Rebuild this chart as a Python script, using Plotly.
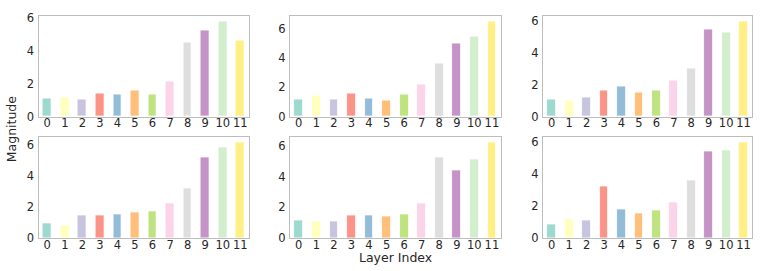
import plotly.graph_objects as go

layers = list(range(12))
tick_labels = [str(i) for i in layers]
colors = ["#8dd3c7", "#ffffb3", "#bebada", "#fb8072", "#80b1d3", "#fdb462",
          "#b3de69", "#fccde5", "#d9d9d9", "#bc80bd", "#ccebc5", "#ffed6f"]

panel1 = [1.12, 1.18, 1.02, 1.41, 1.37, 1.57, 1.35, 2.14, 4.52, 5.24, 5.80, 4.62]
panel2 = [1.17, 1.41, 1.20, 1.59, 1.22, 1.13, 1.50, 2.17, 3.65, 4.98, 5.50, 6.52]
panel3 = [1.08, 1.04, 1.20, 1.62, 1.92, 1.52, 1.62, 2.24, 3.00, 5.48, 5.30, 6.00]
panel4 = [0.95, 0.79, 1.43, 1.47, 1.55, 1.68, 1.72, 2.26, 3.21, 5.24, 5.88, 6.21]
panel5 = [1.15, 1.10, 1.08, 1.44, 1.46, 1.42, 1.52, 2.23, 5.25, 4.42, 5.10, 6.25]
panel6 = [0.88, 1.18, 1.12, 3.22, 1.76, 1.52, 1.72, 2.22, 3.60, 5.44, 5.46, 6.00]
panels = [panel1, panel2, panel3, panel4, panel5, panel6]

W, H = 761, 271
xdoms_px = [(38.5, 249.0), (290.0, 500.7), (543.0, 752.3)]
ydoms_px = [(12.0, 116.7), (138.5, 243.7)]

fig = go.Figure()
layout = dict(width=W, height=H, margin=dict(l=0, r=0, t=0, b=0),
              paper_bgcolor="white", plot_bgcolor="white", showlegend=False,
              font=dict(family="DejaVu Sans", color="#262626", size=11),
              bargap=0)
for i, vals in enumerate(panels):
    r, c = divmod(i, 3)
    n = i + 1
    xa = "x" if n == 1 else f"x{n}"
    ya = "y" if n == 1 else f"y{n}"
    fig.add_trace(go.Bar(x=layers, y=vals, width=0.5, xaxis=xa, yaxis=ya,
                         marker=dict(color=colors, opacity=0.85,
                                     line=dict(color="white", width=0.8))))
    x0, x1 = xdoms_px[c]
    y0, y1 = ydoms_px[r]
    axcommon = dict(showline=True, mirror=True, linecolor="#bdbdbd", linewidth=1.3,
                    showgrid=False, zeroline=False, ticks="",
                    tickfont=dict(size=11.5, color="#262626"),
                    ticklabeloverflow="allow")
    layout["xaxis" if n == 1 else f"xaxis{n}"] = dict(
        domain=[x0 / W, x1 / W], range=[-0.5, 11.5], tickmode="array",
        tickvals=layers, ticktext=tick_labels, anchor=ya, ticklabelstandoff=-4,
        **axcommon)
    layout["yaxis" if n == 1 else f"yaxis{n}"] = dict(
        domain=[1 - y1 / H, 1 - y0 / H], range=[0, max(vals) * 1.05],
        tickmode="linear", tick0=0, dtick=2, anchor=xa, ticklabelstandoff=1,
        **axcommon)

fig.update_layout(**layout)
fig.add_annotation(text="Magnitude", x=11 / W, y=1 - 130 / H, xref="paper", yref="paper",
                   textangle=-90, showarrow=False, font=dict(size=12.5, color="#262626"),
                   xanchor="center", yanchor="middle")
fig.add_annotation(text="Layer Index", x=395 / W, y=1 - 264 / H, xref="paper", yref="paper",
                   showarrow=False, font=dict(size=12.5, color="#262626"),
                   xanchor="center", yanchor="middle")

fig.write_html("out.html", config={"displayModeBar": False},
               post_script="document.body.style.margin='0px';document.body.style.padding='0px';")
